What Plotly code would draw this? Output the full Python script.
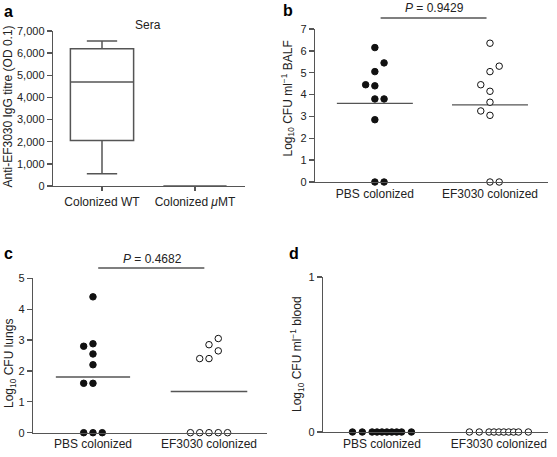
import numpy as np
import plotly.graph_objects as go

# ---------------- data ----------------
# Panel a: box statistics (anti-EF3030 IgG titre)
a_groups = ["Colonized WT", "Colonized <i>μ</i>MT"]
a_lowerfence = [550, 0]
a_q1 = [2050, 0]
a_median = [4700, 0]
a_q3 = [6200, 0]
a_upperfence = [6550, 0]

# Panel b: Log10 CFU/ml BALF
groups = ["PBS colonized", "EF3030 colonized"]
b_pbs = [6.15, 5.45, 5.05, 4.45, 4.4, 3.8, 3.8, 2.85, 0, 0]
b_ef = [6.35, 5.3, 5.05, 4.45, 4.15, 3.65, 3.25, 3.05, 0, 0]
b_pbs_slot = [0, 1, 0, -1, 0, 0, 1, 0, 0, 1]
b_ef_slot = [0, 1, 0, -1, 0, 0, -1, 0, 0, 1]
b_p = "0.9429"

# Panel c: Log10 CFU lungs
c_pbs = [4.4, 2.88, 2.8, 2.55, 2.2, 1.6, 1.6, 0, 0, 0]
c_ef = [3.05, 2.85, 2.65, 2.4, 2.4, 0, 0, 0, 0, 0]
c_pbs_slot = [0, 0, -1, 0, 0, -1, 0, -1, 0, 1]
c_ef_slot = [1, 0, 1, -1, 0, -2, -1, 0, 1, 2]
c_p = "0.4682"

# Panel d: Log10 CFU/ml blood
d_pbs = [0, 0, 0, 0, 0, 0, 0, 0, 0, 0]
d_ef = [0, 0, 0, 0, 0, 0, 0, 0, 0, 0]
d_slot = [-6, -4, -2, -1, 0, 1, 2, 3, 4, 6]

# ---------------- style ----------------
W, H = 557, 457
FONT = "Liberation Sans, Arial, Helvetica, sans-serif"
AX = "#555555"
TXT = "#222222"
DOT = "#111111"


def px_x(p):
    return p / W


def px_y(p):
    return 1 - p / H


fig = go.Figure()

# Panel a boxes
for i in range(2):
    fig.add_trace(go.Box(
        x=[i], q1=[a_q1[i]], median=[a_median[i]], q3=[a_q3[i]],
        lowerfence=[a_lowerfence[i]], upperfence=[a_upperfence[i]],
        width=0.68, whiskerwidth=0.48, boxpoints=False,
        fillcolor="white", line=dict(color=AX, width=1.5),
        xaxis="x", yaxis="y", showlegend=False, hoverinfo="skip"))


def dots(xc, vals, slots, step, filled, xa, ya):
    xs = [xc + s * step for s in slots]
    fig.add_trace(go.Scatter(
        x=xs, y=vals, mode="markers", xaxis=xa, yaxis=ya, showlegend=False,
        marker=dict(size=6.5, symbol="circle",
                    color=DOT if filled else "white",
                    line=dict(color=DOT, width=1)),
        hoverinfo="skip", cliponaxis=False))


def meanline(xc, vals, half, xa, ya):
    m = float(np.mean(vals))
    fig.add_trace(go.Scatter(
        x=[xc - half, xc + half], y=[m, m], mode="lines", xaxis=xa, yaxis=ya,
        line=dict(color=AX, width=1.3), showlegend=False, hoverinfo="skip"))


# Panel b
meanline(0, b_pbs, 0.33, "x2", "y2")
meanline(1, b_ef, 0.33, "x2", "y2")
dots(0, b_pbs, b_pbs_slot, 0.08, True, "x2", "y2")
dots(1, b_ef, b_ef_slot, 0.08, False, "x2", "y2")

# Panel c
meanline(0, c_pbs, 0.32, "x3", "y3")
meanline(1, c_ef, 0.33, "x3", "y3")
dots(0, c_pbs, c_pbs_slot, 0.08, True, "x3", "y3")
dots(1, c_ef, c_ef_slot, 0.08, False, "x3", "y3")

# Panel d
dots(0, d_pbs, d_slot, 0.042, True, "x4", "y4")
dots(1, d_ef, d_slot, 0.042, False, "x4", "y4")

xtickfont = dict(family=FONT, size=12, color=TXT)
ytickfont = dict(family=FONT, size=11, color=TXT)
titlefont = dict(family=FONT, size=12, color=TXT)


def xax(dom, rng, labels, ticks, anchor):
    return dict(domain=dom, range=rng, tickvals=[0, 1], ticktext=labels,
                showline=True, linecolor=AX, linewidth=1.3, ticks=ticks,
                ticklen=4, tickcolor=AX, tickwidth=1.3, showgrid=False,
                zeroline=False, tickfont=xtickfont, automargin=False,
                anchor=anchor, fixedrange=True)


def yax(dom, rng, vals, anchor, fmt=None):
    d = dict(domain=dom, range=rng, tickvals=vals, showline=True,
             linecolor=AX, linewidth=1.3, ticks="outside", ticklen=5,
             tickcolor=AX, tickwidth=1.3, showgrid=False, zeroline=False,
             tickfont=ytickfont, anchor=anchor, automargin=False,
             fixedrange=True)
    if fmt:
        d["tickformat"] = fmt
    return d


layout = dict(
    width=W, height=H, margin=dict(l=0, r=0, t=0, b=0, autoexpand=False),
    paper_bgcolor="white", plot_bgcolor="white",
    font=dict(family=FONT, color=TXT),
    xaxis=xax([px_x(53), px_x(245)], [-0.527, 1.538], a_groups, "outside", "y"),
    yaxis=yax([px_y(186), px_y(31)], [0, 7000], list(range(0, 7001, 1000)), "x", ","),
    xaxis2=xax([px_x(315), px_x(548)], [-0.52, 1.504], groups, "", "y2"),
    yaxis2=yax([px_y(182), px_y(29)], [0, 7], list(range(0, 8)), "x2"),
    xaxis3=xax([px_x(33), px_x(267)], [-0.517, 1.5], groups, "", "y3"),
    yaxis3=yax([px_y(432.7), px_y(278.3)], [0, 5], list(range(0, 6)), "x3"),
    xaxis4=xax([px_x(323), px_x(548)], [-0.504, 1.42], groups, "", "y4"),
    yaxis4=yax([px_y(432), px_y(277)], [0, 1], [0, 1], "x4"),
)
fig.update_layout(**layout)

ann = []
for letter, x, y in [("a", 2, 1), ("b", 281, 0), ("c", 2, 243), ("d", 287, 243)]:
    ann.append(dict(text=f"<b>{letter}</b>", x=px_x(x), y=px_y(y), xref="paper",
                    yref="paper", xanchor="left", yanchor="top", showarrow=False,
                    font=dict(family=FONT, size=16, color="#000")))

# axis titles (rotated)
for text, x, y in [("Anti-EF3030 IgG titre (OD 0.1)", 7.5, 107),
                   ("Log<sub>10</sub> CFU ml<sup>−1</sup> BALF", 287.5, 99),
                   ("Log<sub>10</sub> CFU lungs", 10, 364),
                   ("Log<sub>10</sub> CFU ml<sup>−1</sup> blood", 297, 354)]:
    ann.append(dict(text=text, x=px_x(x), y=px_y(y), xref="paper", yref="paper",
                    xanchor="center", yanchor="middle", textangle=-90,
                    showarrow=False, font=titlefont))

ann.append(dict(text="Sera", x=px_x(148), y=px_y(25), xref="paper", yref="paper",
                xanchor="center", yanchor="middle", showarrow=False,
                font=dict(family=FONT, size=12, color=TXT)))
ann.append(dict(text=f"<i>P</i> = {b_p}", x=px_x(434), y=px_y(8), xref="paper",
                yref="paper", xanchor="center", yanchor="middle", showarrow=False,
                font=dict(family=FONT, size=12, color=TXT)))
ann.append(dict(text=f"<i>P</i> = {c_p}", x=px_x(152), y=px_y(259), xref="paper",
                yref="paper", xanchor="center", yanchor="middle", showarrow=False,
                font=dict(family=FONT, size=12, color=TXT)))
fig.update_layout(annotations=ann)

fig.update_layout(shapes=[
    dict(type="line", xref="x2", yref="paper", x0=0.05, x1=0.97,
         y0=px_y(18), y1=px_y(18), line=dict(color=AX, width=1.3)),
    dict(type="line", xref="x3", yref="paper", x0=0.045, x1=0.96,
         y0=px_y(268), y1=px_y(268), line=dict(color=AX, width=1.3)),
])

fig.write_html("out.html",
               config={"displayModeBar": False, "staticPlot": True},
               post_script="document.body.style.margin='0';"
                           "document.body.style.overflow='hidden';")
